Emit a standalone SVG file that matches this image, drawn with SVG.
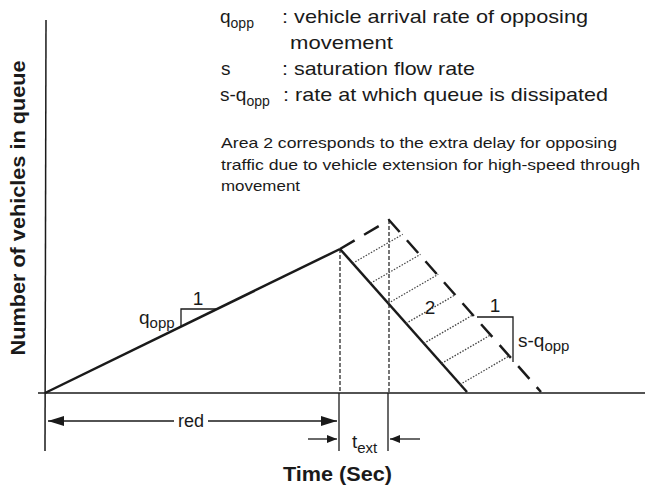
<svg xmlns="http://www.w3.org/2000/svg" width="645" height="489" viewBox="0 0 645 489">
<defs>
<style>
text{font-family:"Liberation Sans",Arial,sans-serif;fill:#1a1a1a}
.leg{font-size:19px}
.note{font-size:14.5px}
.lbl{font-size:18px}
.lbl2{font-size:19px}
.sub{font-size:14px}
.sub2{font-size:15px}
.ax{font-weight:bold;font-size:20px}
.axis{stroke:#1a1a1a;stroke-width:1.5;fill:none}
.thick{stroke:#1a1a1a;stroke-width:2.5;fill:none}
.dash{stroke:#1a1a1a;stroke-width:2.5;fill:none;stroke-dasharray:17 11}
.vdash{stroke:#1a1a1a;stroke-width:1.2;fill:none;stroke-dasharray:4 2}
.hatch{stroke:#444;stroke-width:1.3;fill:none;stroke-dasharray:1.5 1.5}
.thin{stroke:#1a1a1a;stroke-width:1.3;fill:none}
</style>
<marker id="bigArrow" viewBox="0 0 16 10" refX="16" refY="5" markerWidth="16" markerHeight="10" markerUnits="userSpaceOnUse" orient="auto-start-reverse">
<path d="M0,0 L16,5 L0,10 Z" fill="#1a1a1a"/>
</marker>
<marker id="smallArrow" viewBox="0 0 10 8" refX="10" refY="4" markerWidth="10" markerHeight="8" markerUnits="userSpaceOnUse" orient="auto">
<path d="M0,0 L10,4 L0,8 Z" fill="#1a1a1a"/>
</marker>
</defs>
<rect width="645" height="489" fill="#ffffff"/>

<g id="legend">
<text class="leg" x="220" y="23">q<tspan class="sub" dy="5">opp</tspan></text>
<text class="leg" x="282" y="23" textLength="306" lengthAdjust="spacingAndGlyphs">: vehicle arrival rate of opposing</text>
<text class="leg" x="290" y="49" textLength="103" lengthAdjust="spacingAndGlyphs">movement</text>
<text class="leg" x="221" y="75">s</text>
<text class="leg" x="282" y="75" textLength="193" lengthAdjust="spacingAndGlyphs">: saturation flow rate</text>
<text class="leg" x="220" y="101">s-q<tspan class="sub" dy="5">opp</tspan></text>
<text class="leg" x="283" y="101" textLength="325" lengthAdjust="spacingAndGlyphs">: rate at which queue is dissipated</text>
</g>

<g id="note">
<text class="note" x="221" y="148" textLength="396" lengthAdjust="spacingAndGlyphs">Area 2 corresponds to the extra delay for opposing</text>
<text class="note" x="221" y="170" textLength="419" lengthAdjust="spacingAndGlyphs">traffic due to vehicle extension for high-speed through</text>
<text class="note" x="221" y="191" textLength="79" lengthAdjust="spacingAndGlyphs">movement</text>
</g>

<g id="axes">
<line class="axis" x1="46" y1="20" x2="45" y2="451"/>
<line class="axis" x1="38" y1="393" x2="645" y2="393"/>
<text class="ax" transform="translate(25,208) rotate(-90)" text-anchor="middle" textLength="295" lengthAdjust="spacingAndGlyphs">Number of vehicles in queue</text>
<text class="ax" x="283" y="481" textLength="109" lengthAdjust="spacingAndGlyphs">Time (Sec)</text>
</g>

<g id="queue-polygon">
<line class="thick" x1="45" y1="393" x2="340" y2="249"/>
<line class="thick" x1="340" y1="249" x2="467" y2="392"/>
<path class="dash" d="M340,249 L389,220 L541,392"/>
</g>

<g id="area-2">
<line class="hatch" x1="352.7" y1="263.3" x2="402.7" y2="234.3"/>
<line class="hatch" x1="370.5" y1="283.3" x2="420.5" y2="254.3"/>
<line class="hatch" x1="388.3" y1="303.3" x2="438.3" y2="274.3"/>
<line class="hatch" x1="406" y1="323.4" x2="456" y2="294.4"/>
<line class="hatch" x1="423.8" y1="343.4" x2="473.8" y2="314.4"/>
<line class="hatch" x1="441.6" y1="363.4" x2="491.6" y2="334.4"/>
<line class="hatch" x1="460" y1="384.5" x2="510" y2="355.5"/>
<text class="lbl2" x="430" y="314" text-anchor="middle">2</text>
</g>

<g id="slope-arrival">
<path class="thin" d="M181,327 L181,309 L217,309"/>
<text class="lbl2" x="198" y="305" text-anchor="middle">1</text>
<text class="lbl2" x="139" y="324">q<tspan class="sub2" dy="4">opp</tspan></text>
</g>

<g id="slope-discharge">
<path class="thin" d="M477,317 L513,317 L513,362"/>
<text class="lbl2" x="495" y="312" text-anchor="middle">1</text>
<text class="lbl2" x="518" y="347">s-q<tspan class="sub2" dy="4">opp</tspan></text>
</g>

<g id="connectors">
<line class="vdash" x1="340" y1="249" x2="340" y2="393"/>
<line class="vdash" x1="389" y1="220" x2="389" y2="393"/>
<line class="thin" x1="339" y1="393" x2="339" y2="451"/>
<line class="thin" x1="388" y1="393" x2="388" y2="451"/>
<line class="thin" x1="48" y1="421" x2="174" y2="421" marker-start="url(#bigArrow)"/>
<line class="thin" x1="208" y1="421" x2="337" y2="421" marker-end="url(#bigArrow)"/>
<line class="thin" x1="308" y1="439" x2="337" y2="439" marker-end="url(#smallArrow)"/>
<line class="thin" x1="420" y1="439" x2="390" y2="439" marker-end="url(#smallArrow)"/>
</g>

<g id="labels">
<text class="lbl" x="191" y="427" text-anchor="middle">red</text>
<text class="lbl2" x="352" y="448">t<tspan class="sub2" dy="5">ext</tspan></text>
</g>
</svg>
